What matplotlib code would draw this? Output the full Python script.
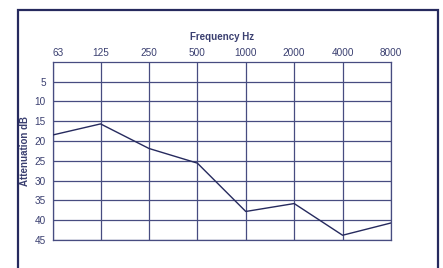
import matplotlib
matplotlib.use("Agg")
import matplotlib.pyplot as plt
from matplotlib.patches import Rectangle

freqs = [63, 125, 250, 500, 1000, 2000, 4000, 8000]
freq_labels = ["63", "125", "250", "500", "1000", "2000", "4000", "8000"]
attenuation = [18.5, 15.7, 21.9, 25.6, 37.8, 35.8, 43.8, 40.7]
y_ticks = [5, 10, 15, 20, 25, 30, 35, 40, 45]

navy = "#262a5e"
grid_c = "#474c80"
text_c = "#3a3f70"

plt.rcParams['font.family'] = ['Liberation Sans', 'DejaVu Sans']

fig = plt.figure(figsize=(4.43, 2.68), dpi=100)
fig.patch.set_facecolor("white")

# outer frame
fig.patches.append(Rectangle((17.5/443, -0.05), (437.5-17.5)/443, 1.05 - 9.8/268,
                             transform=fig.transFigure, fill=False,
                             edgecolor=navy, linewidth=1.6))

ax = fig.add_axes([52.7/443, 1-240/268, (391-52.7)/443, (240-61.7)/268])
ax.set_xscale('log', base=2)
ax.set_xlim(freqs[0], freqs[-1])
ax.set_ylim(45, 0)

ax.plot(freqs, attenuation, color=navy, linewidth=1.0, zorder=3)

for f in freqs:
    ax.axvline(f, color=grid_c, linewidth=0.9, zorder=1)
for y in y_ticks:
    ax.axhline(y, color=grid_c, linewidth=0.9, zorder=1)

for s in ax.spines.values():
    s.set_color(grid_c)
    s.set_linewidth(0.9)

ax.xaxis.tick_top()
ax.set_xticks(freqs)
ax.set_xticklabels(freq_labels)
ax.minorticks_off()
ax.set_yticks(y_ticks)
ax.set_yticklabels([str(v) for v in y_ticks])
ax.tick_params(axis='x', length=0, pad=3, labelsize=7.2, labelcolor=text_c)
ax.tick_params(axis='y', length=0, pad=5, labelsize=7.2, labelcolor=text_c)
ax.get_xticklabels()[0].set_horizontalalignment('left')

ax.set_title("Frequency Hz", fontsize=7, fontweight='bold', color=text_c, pad=15.5)
ax.set_ylabel("Attenuation dB", fontsize=7, fontweight='bold', color=text_c)
ax.yaxis.set_label_coords((25-52.7)/338.3, 0.5)
ax.yaxis.label.set_verticalalignment('center')

fig.savefig("out.png", dpi=100)
